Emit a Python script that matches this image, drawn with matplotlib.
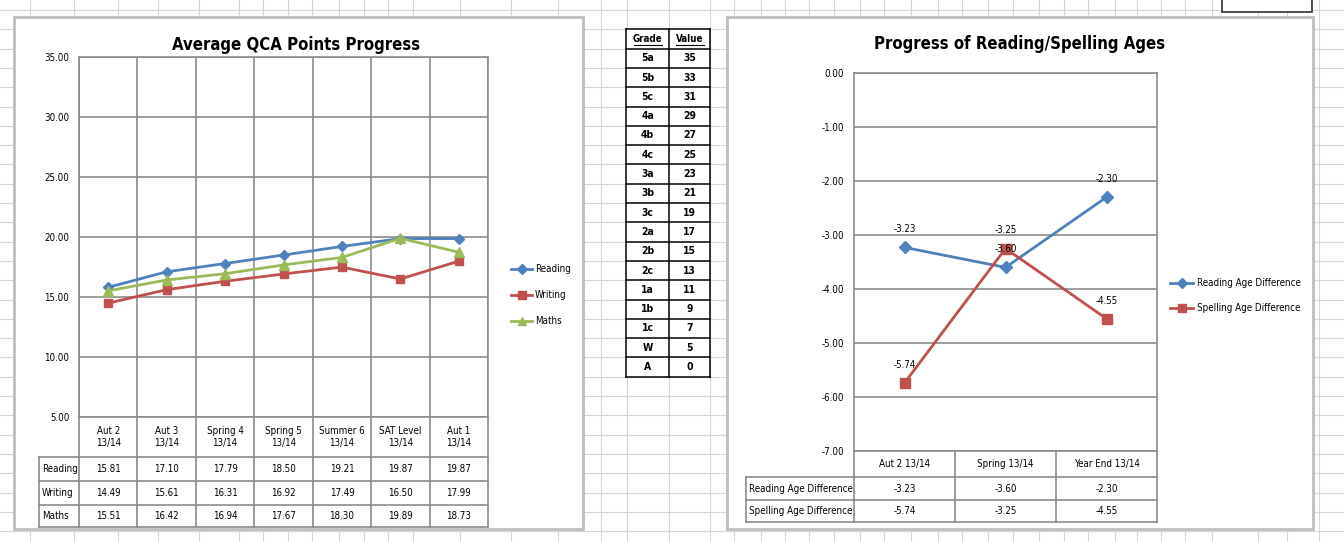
# Excel-style sheet: QCA points progress, grade lookup table and reading/spelling ages
import numpy as np
import matplotlib
matplotlib.use("Agg")
import matplotlib.pyplot as plt
from matplotlib.patches import Rectangle

# QCA points per term
qca_terms = ["Aut 2\n13/14", "Aut 3\n13/14", "Spring 4\n13/14", "Spring 5\n13/14",
             "Summer 6\n13/14", "SAT Level\n13/14", "Aut 1\n13/14"]
reading = [15.81, 17.10, 17.79, 18.50, 19.21, 19.87, 19.87]
writing = [14.49, 15.61, 16.31, 16.92, 17.49, 16.50, 17.99]
maths = [15.51, 16.42, 16.94, 17.67, 18.30, 19.89, 18.73]

# reading / spelling age differences
age_terms = ["Aut 2 13/14", "Spring 13/14", "Year End 13/14"]
reading_age = [-3.23, -3.60, -2.30]
spelling_age = [-5.74, -3.25, -4.55]

# grade lookup
grades = ["5a", "5b", "5c", "4a", "4b", "4c", "3a", "3b", "3c",
          "2a", "2b", "2c", "1a", "1b", "1c", "W", "A"]
grade_values = [35, 33, 31, 29, 27, 25, 23, 21, 19, 17, 15, 13, 11, 9, 7, 5, 0]

plt.rcParams["font.family"] = ["DejaVu Sans"]
plt.rcParams["font.stretch"] = "condensed"

BLUE = "#4F81BD"
RED = "#C0504D"
GREEN = "#9BBB59"
GRID = "#8c8c8c"
SHEET = "#d6d6d6"

W, H = 1344, 541
fig = plt.figure(figsize=(W / 100, H / 100), dpi=100)
fig.patch.set_facecolor("white")

# background axes in pixel coords
bg = fig.add_axes([0, 0, 1, 1])
bg.set_xlim(0, W)
bg.set_ylim(H, 0)
bg.axis("off")

# spreadsheet cells
col_x = [30, 74, 118, 158, 199, 239, 263, 288, 312, 339, 364, 388, 413, 460, 511, 558,
         601, 627, 669, 710, 734, 761, 785, 809, 834, 860, 884, 911, 938, 962, 988, 1013,
         1039, 1064, 1088, 1115, 1137, 1161, 1185, 1212, 1258, 1287, 1319]
for cx in col_x:
    bg.plot([cx, cx], [0, H], color=SHEET, lw=0.8, zorder=0)
for ry in np.arange(10, H, 19.3):
    bg.plot([0, W], [ry, ry], color=SHEET, lw=0.8, zorder=0)

bg.add_patch(Rectangle((1222, -3), 90, 15, facecolor="white", edgecolor="#404040", lw=1.3, zorder=1))

# chart frames
bg.add_patch(Rectangle((14, 17), 569, 512, facecolor="white", edgecolor="#bdbdbd", lw=2, zorder=1))
bg.add_patch(Rectangle((727, 17), 586, 512, facecolor="white", edgecolor="#bdbdbd", lw=2, zorder=1))

# grade table in the middle
tx0, txm, tx1 = 626, 669, 710
ty0, rh = 29.3, 19.3
nrows = len(grades) + 1
bg.add_patch(Rectangle((tx0, ty0), tx1 - tx0, rh * nrows, facecolor="white", edgecolor="none", zorder=1))
for i in range(nrows + 1):
    bg.plot([tx0, tx1], [ty0 + i * rh] * 2, color="black", lw=1.1, zorder=3)
for vx in (tx0, txm, tx1):
    bg.plot([vx, vx], [ty0, ty0 + rh * nrows], color="black", lw=1.1, zorder=3)
for label, cx in (("Grade", (tx0 + txm) / 2), ("Value", (txm + tx1) / 2)):
    bg.text(cx, ty0 + rh / 2, label, ha="center", va="center", fontsize=7, fontweight="bold", zorder=4)
    bg.plot([cx - 14, cx + 14], [ty0 + rh / 2 + 6.5] * 2, color="black", lw=0.8, zorder=4)
for i, (g, v) in enumerate(zip(grades, grade_values)):
    yy = ty0 + (i + 1.5) * rh
    bg.text((tx0 + txm) / 2, yy, g, ha="center", va="center", fontsize=7.5, fontweight="bold", zorder=4)
    bg.text((txm + tx1) / 2, yy, str(v), ha="center", va="center", fontsize=7.5, fontweight="bold", zorder=4)


def add_plot(x0, y0, x1, y1):
    ax = fig.add_axes([x0 / W, 1 - y1 / H, (x1 - x0) / W, (y1 - y0) / H])
    ax.set_facecolor("none")
    for s in ax.spines.values():
        s.set_color(GRID)
        s.set_linewidth(1.2)
    ax.tick_params(axis="y", length=0, pad=7, labelsize=7)
    ax.tick_params(axis="x", which="both", length=0, labelbottom=False)
    ax.yaxis.grid(True, color=GRID, lw=1.2)
    ax.xaxis.grid(True, which="minor", color=GRID, lw=1.2)
    ax.set_axisbelow(True)
    return ax


def data_table(ax, top, bottom, row_lines, header_left, terms, rows, names, fs):
    # rows below the plot area, drawn in the axes' own x scale
    tr = ax.get_xaxis_transform()
    hgt = bottom - top
    yf = lambda py: (bottom - py) / hgt
    n = len(terms)
    lo = yf(row_lines[-1])
    for xb in np.arange(-0.5, n, 1.0):
        ax.plot([xb, xb], [0, lo], transform=tr, color=GRID, lw=1.2, clip_on=False)
    for ry in row_lines:
        ax.plot([-0.5, n - 0.5], [yf(ry)] * 2, transform=tr, color=GRID, lw=1.2, clip_on=False)
    for i, t in enumerate(terms):
        ax.text(i, yf((bottom + row_lines[0]) / 2), t, transform=tr, ha="center", va="center",
                fontsize=fs, linespacing=1.35, clip_on=False)
    for r, vals in enumerate(rows):
        yc = yf((row_lines[r] + row_lines[r + 1]) / 2)
        for i, v in enumerate(vals):
            ax.text(i, yc, f"{v:.2f}", transform=tr, ha="center", va="center", fontsize=fs, clip_on=False)
    # row headers in sheet pixels
    left_px = ax_px[ax][0]
    for ry in row_lines:
        bg.plot([header_left, left_px], [ry, ry], color=GRID, lw=1.2, zorder=3)
    bg.plot([header_left, header_left], [row_lines[0], row_lines[-1]], color=GRID, lw=1.2, zorder=3)
    for r, name in enumerate(names):
        bg.text(header_left + 3, (row_lines[r] + row_lines[r + 1]) / 2, name, ha="left", va="center",
                fontsize=fs, zorder=4)


ax_px = {}

# left chart
L = (79, 57, 488, 417)
axL = add_plot(*L)
ax_px[axL] = L
xs = np.arange(len(qca_terms))
axL.plot(xs, reading, color=BLUE, lw=2, marker="D", ms=5.5, label="Reading", clip_on=False)
axL.plot(xs, writing, color=RED, lw=2, marker="s", ms=6, label="Writing", clip_on=False)
axL.plot(xs, maths, color=GREEN, lw=2, marker="^", ms=6.5, label="Maths", clip_on=False)
axL.set_xlim(-0.5, len(qca_terms) - 0.5)
axL.set_ylim(5, 35)
axL.set_yticks(np.arange(5, 36, 5))
axL.set_yticklabels([f"{v:.2f}" for v in np.arange(5, 36, 5)])
axL.set_xticks(np.arange(-0.5, len(qca_terms), 1), minor=True)
data_table(axL, 57, 417, [457, 481, 505, 527], 39, qca_terms, [reading, writing, maths],
           ["Reading", "Writing", "Maths"], 7)
bg.text(296, 45, "Average QCA Points Progress", ha="center", va="center", fontsize=12,
        fontweight="bold", zorder=4)
for (ly, col, mk, ms, name) in ((269, BLUE, "D", 5, "Reading"), (295, RED, "s", 5.5, "Writing"),
                                (321, GREEN, "^", 6, "Maths")):
    bg.plot([511, 532], [ly, ly], color=col, lw=2, zorder=3)
    bg.plot([521.5], [ly], color=col, marker=mk, ms=ms, zorder=3)
    bg.text(535, ly, name, ha="left", va="center", fontsize=7, zorder=4)

# right chart
R = (854, 73, 1157, 451)
axR = add_plot(*R)
ax_px[axR] = R
xr = np.arange(len(age_terms))
axR.plot(xr, reading_age, color=BLUE, lw=2, marker="D", ms=6, clip_on=False)
axR.plot(xr, spelling_age, color=RED, lw=2, marker="s", ms=7, clip_on=False)
for series in (reading_age, spelling_age):
    for i, v in enumerate(series):
        axR.annotate(f"{v:.2f}", (i, v), xytext=(0, 13), textcoords="offset points",
                     ha="center", va="center", fontsize=7)
axR.set_xlim(-0.5, len(age_terms) - 0.5)
axR.set_ylim(-7, 0)
axR.set_yticks(np.arange(-7, 1, 1))
axR.set_yticklabels([f"{v:.2f}" for v in np.arange(-7, 1, 1)])
axR.set_xticks(np.arange(-0.5, len(age_terms), 1), minor=True)
data_table(axR, 73, 451, [477, 500, 522], 746, age_terms, [reading_age, spelling_age],
           ["Reading Age Difference", "Spelling Age Difference"], 7)
bg.text(1020, 44, "Progress of Reading/Spelling Ages", ha="center", va="center", fontsize=12,
        fontweight="bold", zorder=4)
for (ly, col, mk, ms, name) in ((283, BLUE, "D", 5.5, "Reading Age Difference"),
                                (308, RED, "s", 6, "Spelling Age Difference")):
    bg.plot([1170, 1193], [ly, ly], color=col, lw=2, zorder=3)
    bg.plot([1182], [ly], color=col, marker=mk, ms=ms, zorder=3)
    bg.text(1197, ly, name, ha="left", va="center", fontsize=7, zorder=4)

fig.savefig("out.png", dpi=100)
